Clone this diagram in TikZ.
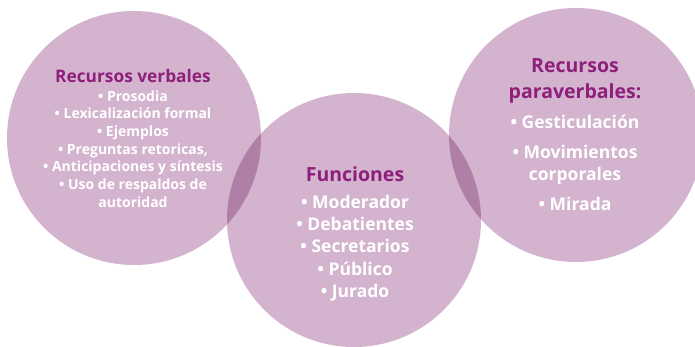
\documentclass[tikz,border=0pt]{standalone}
\usepackage{fontspec}
\setmainfont{Open Sans}
\usepackage{tikz}
\definecolor{disc}{HTML}{D4B3CF}
\definecolor{overlap}{HTML}{B07FA6}
\definecolor{plum}{HTML}{8E1F7A}
\tikzset{
  circ/.style={fill=disc, draw=none},
  lens/.style={fill=overlap, draw=none},
  ttl/.style={text=plum, font=\bfseries\fontsize{19.5}{26}\selectfont, align=center, inner sep=0pt},
  itm/.style={text=white, font=\bfseries\fontsize{17.5}{22.2}\selectfont, align=center, inner sep=0pt},
}

\begin{document}
\begin{tikzpicture}
  \useasboundingbox (0pt,0pt) rectangle (695pt,346pt);
  \coordinate (L) at (134pt,208pt);
  \coordinate (M) at (354pt,126pt);
  \coordinate (R) at (576pt,211pt);
  \foreach \C in {L,M,R}
    \fill[circ] (\C) circle (127pt);
  % overlaps
  \begin{scope}
    \clip (L) circle (127pt);
    \fill[lens] (M) circle (127pt);
  \end{scope}
  \begin{scope}
    \clip (R) circle (127pt);
    \fill[lens] (M) circle (127pt);
  \end{scope}
  % texts
  \node[ttl, font=\bfseries\fontsize{17.3}{18}\selectfont] (tL) at (133pt,270pt) {Recursos verbales};
  \node[itm, font=\bfseries\fontsize{14}{17.7}\selectfont] (iL) at (133pt,197pt)
    {• Prosodia\\ • Lexicalización formal\\ • Ejemplos\\ • Preguntas retoricas,\\
     • Anticipaciones y síntesis\\ • Uso de respaldos de\\ autoridad};
  \node[ttl] (tM) at (355pt,172pt) {Funciones};
  \node[itm] (iM) at (355pt,98pt)
    {• Moderador\\ • Debatientes\\ • Secretarios\\ • Público\\ • Jurado};
  \node[ttl] (tR) at (575pt,265pt) {Recursos\\ paraverbales:};
  \node[itm] (iR) at (575pt,183pt)
    {• Gesticulación\\[8pt] • Movimientos\\ corporales\\[8pt] • Mirada};
\end{tikzpicture}
\end{document}
